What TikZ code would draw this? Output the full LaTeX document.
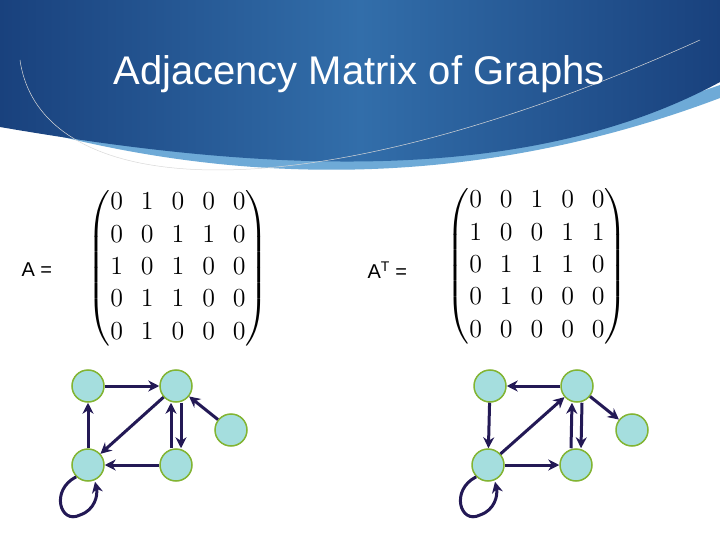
\documentclass[tikz,border=0pt]{standalone}
\usepackage{amsmath}
\usepackage{fontspec}
\usetikzlibrary{arrows.meta}
\newfontfamily\arial{Liberation Sans}
\definecolor{vfill}{RGB}{165,222,222}
\definecolor{vline}{RGB}{130,180,50}
\definecolor{edgec}{RGB}{35,25,85}
\definecolor{bdark}{RGB}{25,65,125}
\definecolor{bmid}{RGB}{50,110,170}
\definecolor{bband}{RGB}{110,170,215}
\begin{document}
\begin{tikzpicture}[x=1pt,y=-1pt,
  vert/.style={circle,draw=vline,line width=1.5pt,fill=vfill,minimum size=32pt,inner sep=0pt},
  edge/.style={draw=edgec,line width=3pt,-{Stealth[length=11pt,width=11pt]}},
  mat/.style={font=\fontsize{15}{18}\selectfont,scale=1.8}]
\useasboundingbox (0,0) rectangle (720,540);
\fill[white] (0,0) rectangle (720,540);
\fill[bband] (0,120) .. controls (200,180) and (450,200) .. (720,98) -- (720,85) .. controls (450,180) and (200,160) .. (0,115) -- cycle;
\shade[left color=bdark, right color=bdark, middle color=bmid] (0,0) -- (720,0) -- (720,82) .. controls (520,190) and (250,170) .. (0,127) -- cycle;
\draw[gray!30,line width=0.5pt] (20,60) .. controls (40,200) and (300,220) .. (700,40);
\node[white,font=\arial\fontsize{40}{46}\selectfont] (title) at (359,74) {Adjacency Matrix of Graphs};
\node[mat] (ma) at (178,268) {$\setlength{\arraycolsep}{5pt}\begin{pmatrix}0&1&0&0&0\\0&0&1&1&0\\1&0&1&0&0\\0&1&1&0&0\\0&1&0&0&0\end{pmatrix}$};
\node[mat] (mt) at (537,266) {$\setlength{\arraycolsep}{5pt}\begin{pmatrix}0&0&1&0&0\\1&0&0&1&1\\0&1&1&1&0\\0&1&0&0&0\\0&0&0&0&0\end{pmatrix}$};
\node[font=\arial\fontsize{20}{24}\selectfont,anchor=west] (la) at (18,270) {A =};
\node[font=\arial\fontsize{20}{24}\selectfont,anchor=west] (lt) at (364,270) {A\textsuperscript{T} =};
% left graph
\node[vert] (a1) at (88,386) {};
\node[vert] (a2) at (176,386) {};
\node[vert] (a3) at (88,465) {};
\node[vert] (a4) at (176,465) {};
\node[vert] (a5) at (231,430) {};
\draw[edge] (a1) -- (a2);
\draw[edge] (a3) -- (a1);
\draw[edge] (a2) -- (a3);
\draw[edge] (a4) -- (a3);
\draw[edge] ([xshift=-5pt]a4.north) -- ([xshift=-5pt]a2.south);
\draw[edge] ([xshift=5pt]a2.south) -- ([xshift=5pt]a4.north);
\draw[edge] (a5) -- (a2);
\draw[edge] (a3.south west) .. controls (50,490) and (60,525) .. (80,515) .. controls (95,510) and (98,495) .. ([xshift=7pt]a3.south);
% right graph
\node[vert] (b1) at (490,386) {};
\node[vert] (b2) at (577,386) {};
\node[vert] (b3) at (488,465) {};
\node[vert] (b4) at (576,465) {};
\node[vert] (b5) at (632,430) {};
\draw[edge] (b2) -- (b1);
\draw[edge] (b1) -- (b3);
\draw[edge] (b3) -- (b2);
\draw[edge] (b3) -- (b4);
\draw[edge] ([xshift=-5pt]b4.north) -- ([xshift=-5pt]b2.south);
\draw[edge] ([xshift=5pt]b2.south) -- ([xshift=5pt]b4.north);
\draw[edge] (b2) -- (b5);
\draw[edge] (b3.south west) .. controls (450,490) and (460,525) .. (480,515) .. controls (495,510) and (498,495) .. ([xshift=7pt]b3.south);
\end{tikzpicture}
\end{document}
